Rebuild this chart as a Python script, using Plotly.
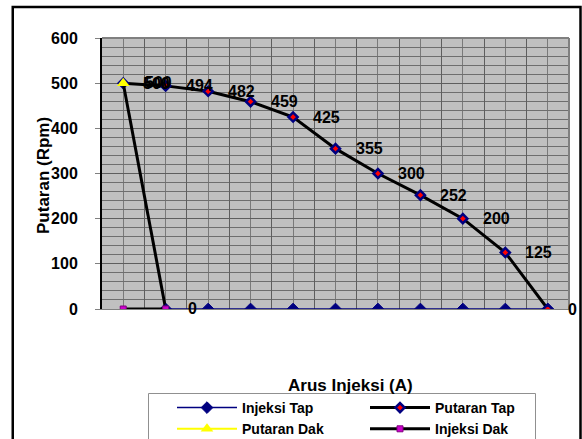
import plotly.graph_objects as go

# ---- data ----
categories = [1, 2, 3, 4, 5, 6, 7, 8, 9, 10, 11]
injeksi_tap = [None, 0, 0, 0, 0, 0, 0, 0, 0, 0, 0]
putaran_tap = [500, 494, 482, 459, 425, 355, 300, 252, 200, 125, 0]
dak_categories = [1, 2]
putaran_dak = [500, 0]
injeksi_dak = [0, 0]
y_ticks = [0, 100, 200, 300, 400, 500, 600]

FONT = "Liberation Sans, Arial, sans-serif"
NAVY = "#000080"

# plot-area geometry in pixels (for paper conversions)
W, H = 582, 439
L, R, T, B = 102, 569, 38, 309
PW, PH = R - L, B - T


def px_x(x):
    return (x - L) / PW


def px_y(y):
    return (B - y) / PH


fig = go.Figure()

fig.add_trace(go.Scatter(
    x=categories, y=injeksi_tap, name="Injeksi Tap", mode="lines+markers",
    line=dict(color=NAVY, width=1.5),
    marker=dict(symbol="diamond", size=9, color=NAVY, line=dict(color=NAVY, width=1)),
    legendrank=1,
))
fig.add_trace(go.Scatter(
    x=categories, y=putaran_tap, name="Putaran Tap", mode="lines+markers",
    line=dict(color="black", width=3),
    marker=dict(symbol="diamond", size=7, color="red", line=dict(color=NAVY, width=2.5)),
    legendrank=2,
))
fig.add_trace(go.Scatter(
    x=dak_categories, y=putaran_dak, name="Putaran Dak", mode="lines+markers",
    line=dict(color="black", width=3),
    marker=dict(symbol="triangle-up", size=11, color=["#FFFF00", NAVY], line=dict(width=0)),
    showlegend=False,
))
fig.add_trace(go.Scatter(
    x=[None], y=[None], name="Putaran Dak", mode="lines+markers",
    line=dict(color="#FFFF00", width=2),
    marker=dict(symbol="triangle-up", size=11, color="#FFFF00"),
    legendrank=3,
))
fig.add_trace(go.Scatter(
    x=dak_categories, y=injeksi_dak, name="Injeksi Dak", mode="lines+markers",
    line=dict(color="black", width=3),
    marker=dict(symbol="square", size=6, color="#CC00CC", line=dict(color="#800080", width=1)),
    legendrank=4,
))

annotations = []
label_font = dict(family=FONT, size=16, color="black", weight="bold")
for xv, yv in zip(categories, putaran_tap):
    annotations.append(dict(x=xv, y=yv, text=str(yv), showarrow=False, xanchor="left",
                            yanchor="middle", xshift=18, font=label_font))
for xv, yv in zip(dak_categories, putaran_dak):
    annotations.append(dict(x=xv, y=yv, text=str(yv), showarrow=False, xanchor="left",
                            yanchor="middle", xshift=20, yshift=1, font=label_font))

title_font = dict(family=FONT, size=17, color="black", weight="bold")
annotations.append(dict(x=px_x(43), y=px_y(175), xref="paper", yref="paper",
                        text="Putaran (Rpm)", textangle=-90, showarrow=False,
                        xanchor="center", yanchor="middle", font=title_font))
annotations.append(dict(x=px_x(350), y=px_y(385), xref="paper", yref="paper",
                        text="Arus Injeksi (A)", showarrow=False,
                        xanchor="center", yanchor="middle", font=title_font))

shapes = [
    # plot area top/right border
    dict(type="line", xref="paper", yref="paper", x0=0, x1=1, y0=1, y1=1,
         line=dict(color="#808080", width=2)),
    dict(type="line", xref="paper", yref="paper", x0=1, x1=1, y0=0, y1=1,
         line=dict(color="#808080", width=2)),
    # chart frame
    dict(type="rect", xref="paper", yref="paper",
         x0=px_x(12.75), x1=px_x(580.5), y0=px_y(470), y1=px_y(7),
         line=dict(color="black", width=2.5)),
    # legend box
    dict(type="rect", xref="paper", yref="paper",
         x0=px_x(148.5), x1=px_x(535.5), y0=px_y(460), y1=px_y(393.5),
         line=dict(color="#909090", width=1)),
]

fig.update_layout(
    width=W, height=H,
    margin=dict(l=L, r=W - R, t=T, b=H - B, autoexpand=False),
    paper_bgcolor="white",
    plot_bgcolor="#C0C0C0",
    font=dict(family=FONT, color="black"),
    showlegend=True,
    legend=dict(
        orientation="h", x=px_x(172), xanchor="left", y=px_y(392), yanchor="top",
        borderwidth=0, bgcolor="rgba(0,0,0,0)",
        font=dict(family=FONT, size=14, color="black", weight="bold"),
        entrywidth=118, traceorder="normal", itemwidth=60,
    ),
    annotations=annotations,
    shapes=shapes,
    xaxis=dict(
        range=[0.5, 11.5], tick0=0.5, dtick=1, showticklabels=False, ticks="",
        showgrid=True, gridcolor="#5e5e5e", gridwidth=1, zeroline=False,
        showline=True, linecolor="#808080", linewidth=1,
        minor=dict(tick0=0.5, dtick=0.5, showgrid=True, gridcolor="#7a7a7a", gridwidth=1),
        fixedrange=True,
    ),
    yaxis=dict(
        range=[0, 600], tickvals=y_ticks, ticks="outside", ticklen=5, tickcolor="#808080",
        tickfont=dict(family=FONT, size=16, color="black", weight="bold"),
        ticklabelstandoff=14,
        showgrid=True, gridcolor="#5e5e5e", gridwidth=1, zeroline=False,
        showline=True, linecolor="black", linewidth=2,
        minor=dict(dtick=20, showgrid=True, gridcolor="#6e6e6e", gridwidth=1),
        fixedrange=True,
    ),
)

fig.write_html(
    "out.html",
    config={"displayModeBar": False},
    post_script="document.body.style.margin='0';document.body.style.overflow='hidden';",
)
